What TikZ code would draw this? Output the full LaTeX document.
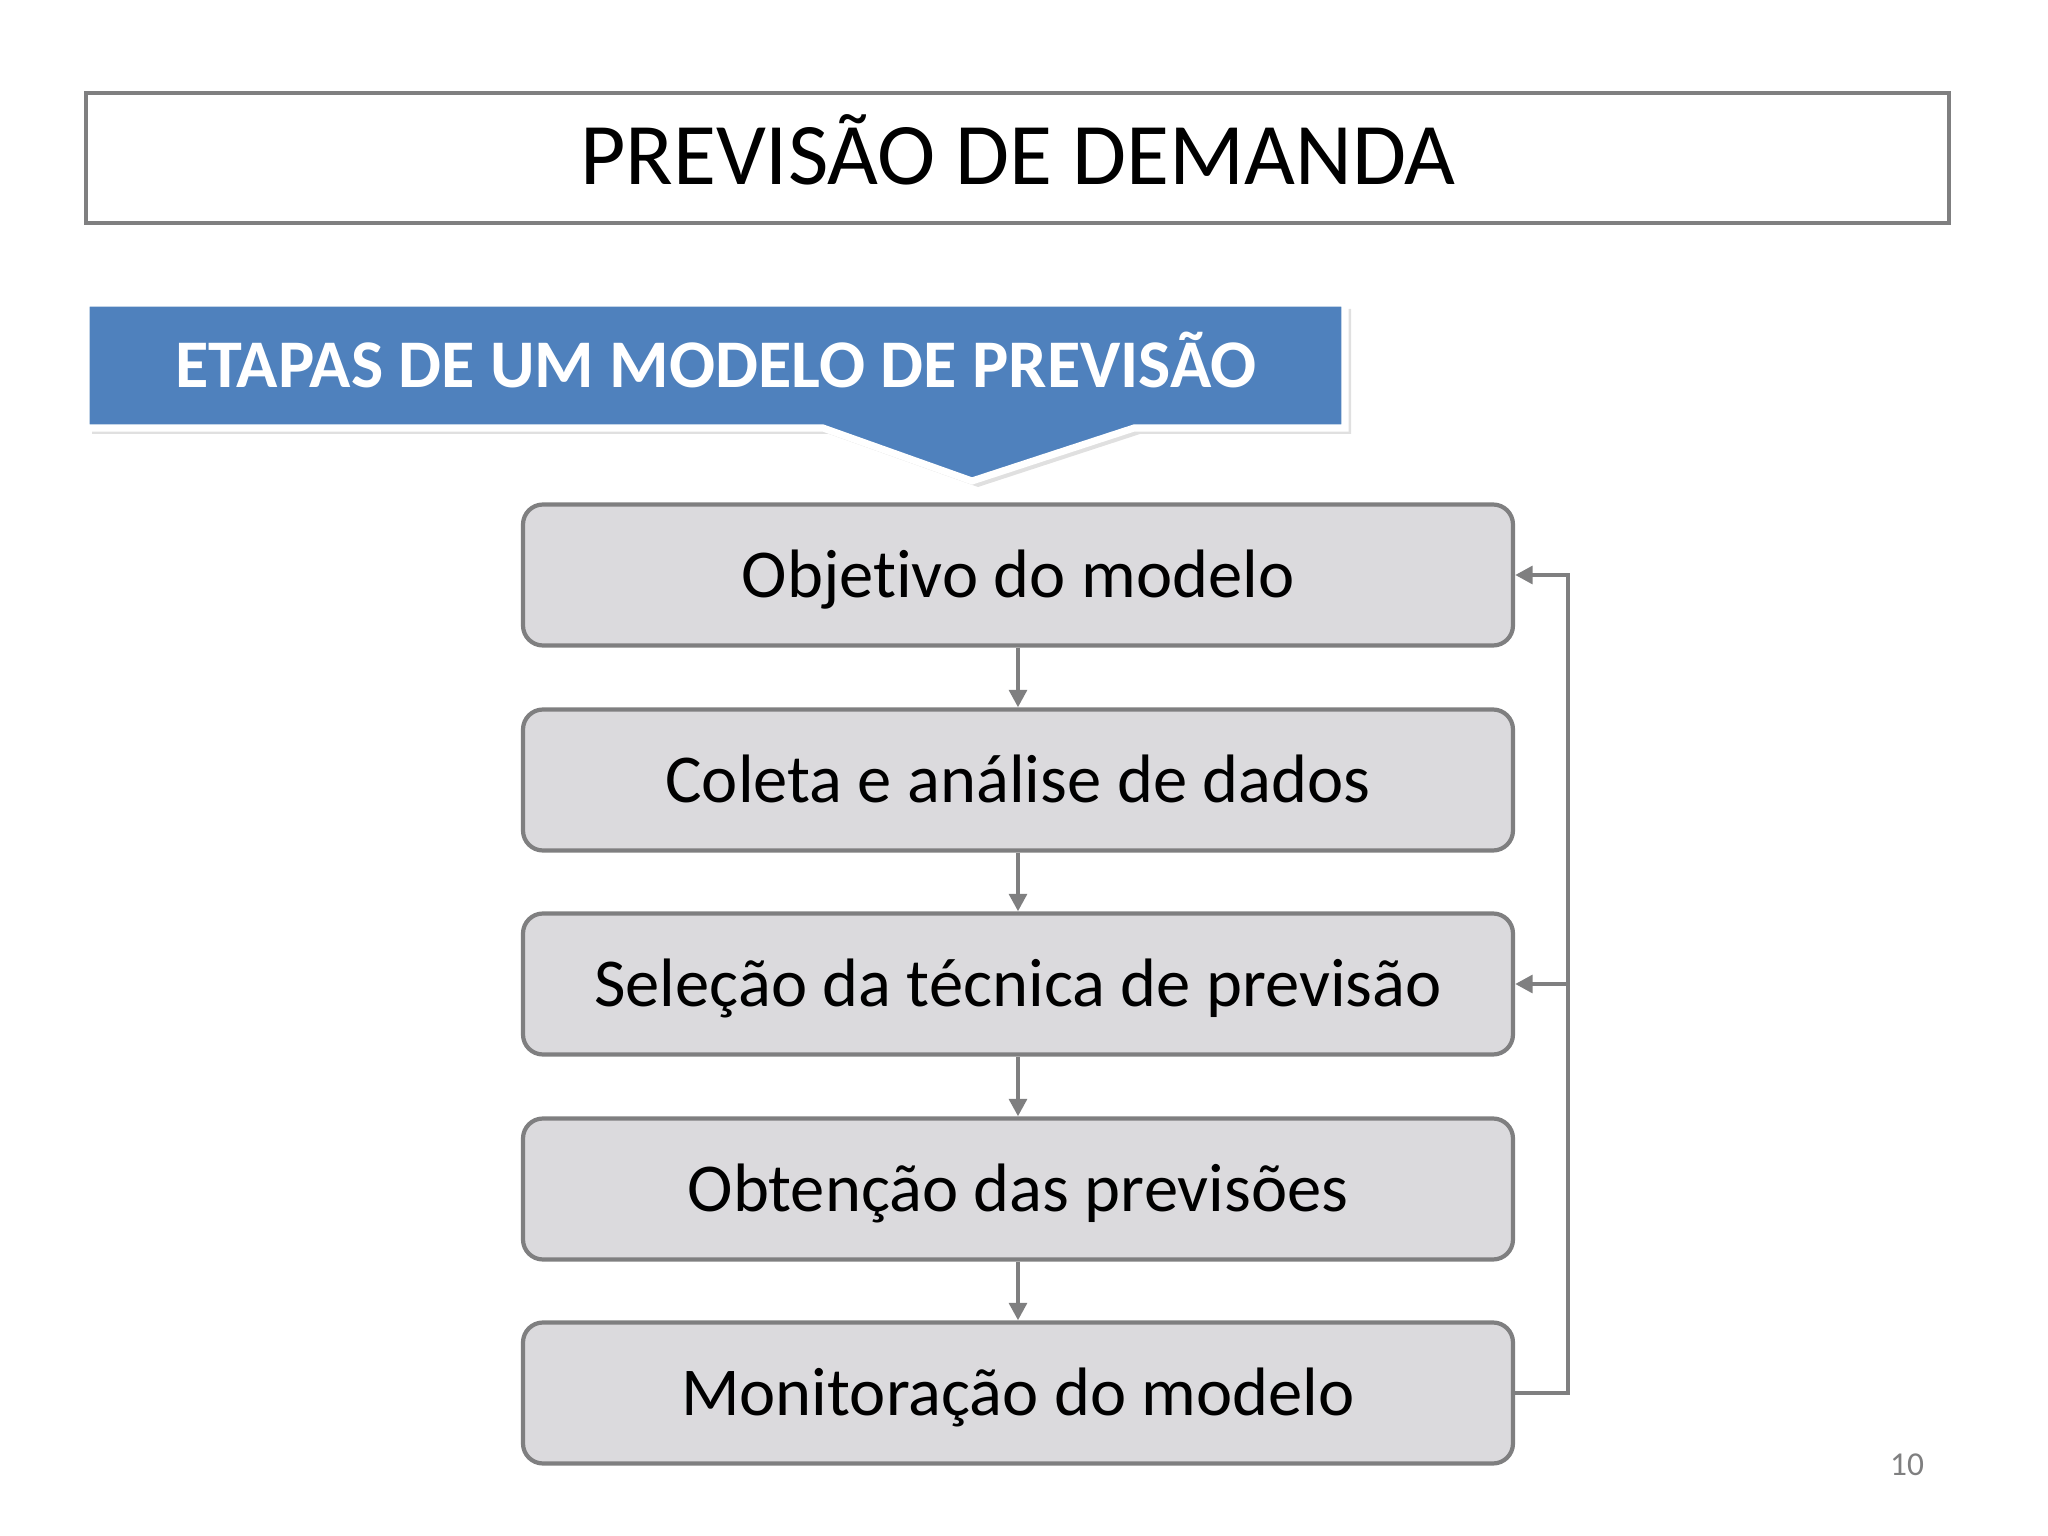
\documentclass[tikz,border=0pt]{standalone}
\usepackage{fontspec}
\setmainfont{Carlito}[Ligatures=NoCommon]
\usetikzlibrary{arrows.meta}
\definecolor{boxgray}{HTML}{DBDADD}
\definecolor{linegray}{HTML}{7F7F80}
\definecolor{bannerblue}{HTML}{4F81BD}

\begin{document}
\begin{tikzpicture}[stepbox/.style={rectangle, rounded corners=0.2cm, draw=linegray, fill=boxgray, line width=1.2pt, minimum width=9.9cm, minimum height=1.41cm, text height=0.55cm, text depth=0.1cm, font=\fontsize{19.5}{22}\selectfont},
    link/.style={draw=linegray, line width=1.3pt, -{Triangle[length=5pt,width=5pt]}}]
    \useasboundingbox (0,0) rectangle (20.48,-15.36);
    % title
    \draw[linegray, line width=1.2pt] (0.86,-0.93) rectangle (19.49,-2.23);
    \node (title) at (10.18,-1.50)[font=\fontsize{25}{30}\selectfont]{PREVISÃO DE DEMANDA};
    % banner with pointer
    \fill[black!12] (0.92,-3.09)--(13.51,-3.09)--(13.51,-4.34)--(11.40,-4.34)--(9.78,-4.87)--(8.29,-4.34)--(0.92,-4.34)--cycle;
    \draw[white, line width=2pt, fill=bannerblue] (0.86,-3.03)--(13.45,-3.03)--(13.45,-4.28)--(11.34,-4.28)--(9.72,-4.81)--(8.23,-4.28)--(0.86,-4.28)--cycle;
    \node (banner) at (7.16,-3.60)[text=white, font=\fontsize{19.4}{22}\selectfont\bfseries]{ETAPAS DE UM MODELO DE PREVISÃO};
    % steps
    \node (n1) at (10.18,-5.75)[stepbox]{Objetivo do modelo};
    \node (n2) at (10.18,-7.80)[stepbox]{Coleta e análise de dados};
    \node (n3) at (10.18,-9.84)[stepbox]{Seleção da técnica de previsão};
    \node (n4) at (10.18,-11.89)[stepbox]{Obtenção das previsões};
    \node (n5) at (10.18,-13.93)[stepbox]{Monitoração do modelo};
    \draw[link] (n1)--(n2);
    \draw[link] (n2)--(n3);
    \draw[link] (n3)--(n4);
    \draw[link] (n4)--(n5);
    % feedback
    \coordinate (fb) at (15.66,-9.84);
    \draw[link] (n5.east) -- ++(0.53,0) |- (n1.east);
    \draw[link] (fb) -- (n3.east);
    \node (page) at (19.07,-14.65)[text=linegray, font=\fontsize{9.5}{11}\selectfont]{10};
\end{tikzpicture}
\end{document}
